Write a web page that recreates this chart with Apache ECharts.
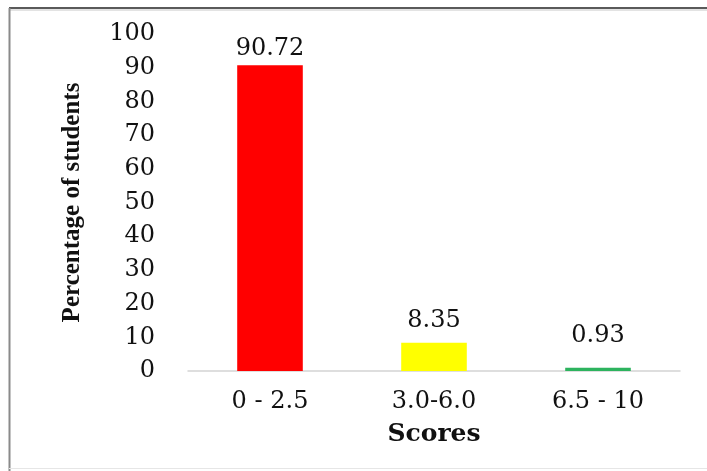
<!DOCTYPE html>
<html><head><meta charset="utf-8">
<script src="https://cdn.jsdelivr.net/npm/echarts@6/dist/echarts.min.js"></script>
<style>html,body{margin:0;padding:0;background:#fff}#c{width:707px;height:471px}</style>
</head><body><div id="c"></div>
<script>
const categories = ['0 - 2.5', '3.0-6.0', '6.5 - 10'];
const values = [90.72, 8.35, 0.93];
const labels = ['90.72', '8.35', '0.93'];
const barColors = ['#FF0000', '#FFFF00', '#2DB35E'];
const yTicks = [0, 10, 20, 30, 40, 50, 60, 70, 80, 90, 100];
const labelGaps = [5, 10, 20];

const chart = echarts.init(document.getElementById('c'), null, {renderer: 'canvas'});
const numFont = {fontFamily: 'DejaVu Serif', fontSize: 24, color: '#111'};
chart.setOption({
  animation: false,
  backgroundColor: '#fff',
  graphic: [
    {type: 'line', shape: {x1: 9, y1: 8, x2: 707, y2: 8}, style: {stroke: '#5a5a5a', lineWidth: 2}},
    {type: 'line', shape: {x1: 9, y1: 10, x2: 707, y2: 10}, style: {stroke: '#c8c8c8', lineWidth: 1}},
    {type: 'line', shape: {x1: 9.5, y1: 8, x2: 9.5, y2: 471}, style: {stroke: '#8a8a8a', lineWidth: 2}},
    {type: 'line', shape: {x1: 9, y1: 468.5, x2: 707, y2: 468.5}, style: {stroke: '#e6e6e6', lineWidth: 1}}
  ],
  grid: {left: 188, right: 27, top: 34, bottom: 100},
  xAxis: {
    type: 'category',
    data: categories,
    name: 'Scores',
    nameLocation: 'middle',
    nameGap: 51,
    nameTextStyle: {fontFamily: 'DejaVu Serif', fontWeight: 'bold', fontSize: 25, color: '#111'},
    axisLine: {lineStyle: {color: '#d4d4d4', width: 1.5}},
    axisTick: {show: false},
    axisLabel: Object.assign({margin: 19}, numFont)
  },
  yAxis: {
    type: 'value',
    min: 0, max: 100, interval: 10,
    name: 'Percentage of students',
    nameLocation: 'middle',
    nameGap: 103,
    nameTextStyle: {fontFamily: 'Liberation Serif', fontWeight: 'bold', fontSize: 25, color: '#111'},
    axisLine: {show: false},
    axisTick: {show: false},
    splitLine: {show: false},
    axisLabel: Object.assign({margin: 33, formatter: v => yTicks.includes(v) ? String(v) : ''}, numFont)
  },
  series: [{
    type: 'bar',
    barWidth: '40%',
    data: values.map((v, i) => ({
      value: v,
      itemStyle: {color: barColors[i]},
      label: {distance: labelGaps[i]}
    })),
    label: {
      show: true, position: 'top',
      formatter: p => labels[p.dataIndex],
      fontFamily: 'DejaVu Serif', fontSize: 24, color: '#111'
    }
  }]
});
</script></body></html>
